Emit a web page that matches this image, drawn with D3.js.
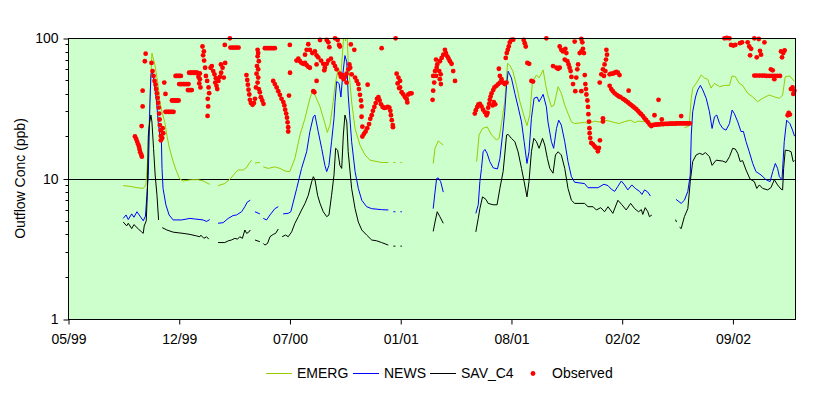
<!DOCTYPE html>
<html>
<head>
<meta charset="utf-8">
<script src="https://cdn.jsdelivr.net/npm/d3@7"></script>
<style>
  body { margin: 0; background: #fff; }
  text { font-family: "Liberation Sans", Arial, sans-serif; fill: #000; }
</style>
</head>
<body>
<div id="chart"></div>
<script>
// time is in decimal years, null marks a gap in the record
const emerg = [
  [1999.676,8.9],[1999.709,8.8],[1999.744,8.6],[1999.775,8.5],[1999.788,9.0],[1999.798,14],[1999.808,35],[1999.818,78],[1999.833,64],[1999.849,46],[1999.857,35],[1999.870,29],[1999.882,25],[1999.893,20],[1999.903,16.8],[1999.923,13.2],[1999.940,11.2],[1999.956,9.9],[1999.973,9.6],[2000.014,9.8],[2000.047,9.8],[2000.072,9.6],[2000.096,9.2],[2000.104,9.1],
  null,
  [2000.145,8.9],[2000.178,9.2],[2000.207,10],[2000.228,10.9],[2000.244,11.5],[2000.269,11.5],[2000.286,12],[2000.298,12.8],[2000.310,13.5],
  null,
  [2000.327,12.9],[2000.351,13.0],
  null,
  [2000.368,12.1],[2000.392,11.8],[2000.425,12.1],[2000.450,11.8],[2000.475,11.3],[2000.499,11.2],[2000.524,13.9],[2000.549,20.4],[2000.574,26.8],[2000.598,37.2],[2000.610,41.5],[2000.623,39.3],[2000.648,32.4],[2000.672,24.7],[2000.684,21.3],[2000.697,24],[2000.713,35.2],[2000.722,46],[2000.738,61],[2000.751,54.5],[2000.763,94],[2000.769,130],[2000.774,95],[2000.779,130],[2000.787,67.6],[2000.804,35],[2000.821,22.7],[2000.845,17.3],[2000.870,14.7],[2000.895,13.5],[2000.952,13.0],[2000.985,13.0],
  null,
  [2001.010,13.0],[2001.020,13.0],
  null,
  [2001.045,13.0],[2001.052,13.0],
  null,
  [2001.207,12.8],[2001.216,16.4],[2001.232,18.5],[2001.257,17.3],
  null,
  [2001.422,13.2],[2001.434,20.4],[2001.451,22.7],[2001.474,23.3],[2001.496,20.4],[2001.520,18.8],[2001.533,19.3],[2001.545,24.6],[2001.561,35.2],[2001.575,66],[2001.586,64],[2001.602,57.6],[2001.619,46],[2001.636,35.2],[2001.655,28.3],[2001.671,23.8],[2001.685,28.3],[2001.698,49],[2001.718,54.5],[2001.731,52],[2001.751,59.2],[2001.764,46],[2001.775,39],[2001.792,32.4],[2001.805,33.3],[2001.825,45],[2001.841,40.4],[2001.858,33.3],[2001.874,29],[2001.891,25.3],[2001.907,24.6],[2001.956,25.1],[2001.973,24.6],[2002.006,25.6],[2002.039,25.1],[2002.055,26],[2002.080,25.6],[2002.105,25],[2002.129,24.6],[2002.154,25.4],[2002.184,26],[2002.204,25],[2002.220,25.6],[2002.253,25.4],[2002.286,25.1],
  null,
  [2002.450,23],[2002.470,23.5],[2002.475,25.4],[2002.484,37.2],[2002.491,44],[2002.508,47.5],[2002.533,54.5],[2002.549,52],[2002.565,50.9],[2002.582,44],[2002.599,47.5],[2002.624,45],[2002.648,46],[2002.673,46],[2002.686,53.7],[2002.702,53],[2002.722,47.5],[2002.738,46],[2002.763,40.4],[2002.788,38.1],[2002.812,35.2],[2002.837,37.2],[2002.870,39.3],[2002.895,38.1],[2002.920,37.2],[2002.936,39.3],[2002.949,53],[2002.972,53.7],[2002.994,49]
];

const news = [
  [1999.676,5.2],[1999.690,5.5],[1999.701,5.1],[1999.718,5.6],[1999.729,5.3],[1999.744,5.8],[1999.759,5.4],[1999.775,5.0],[1999.786,5.4],[1999.793,7.5],[1999.800,10.5],[1999.808,34],[1999.813,55],[1999.818,58],[1999.826,52],[1999.841,35],[1999.849,25.3],[1999.857,20.4],[1999.865,18.3],[1999.868,11.8],[1999.873,8.5],[1999.887,6.5],[1999.903,5.5],[1999.923,5.07],[1999.965,5.07],[2000.006,5.2],[2000.030,5.15],[2000.071,5.07],[2000.088,4.95],[2000.104,5.1],
  null,
  [2000.145,4.8],[2000.170,4.85],[2000.195,5.2],[2000.219,5.45],[2000.236,5.5],[2000.261,5.8],[2000.277,6.3],[2000.289,6.8],[2000.304,7.0],
  null,
  [2000.327,5.8],[2000.351,5.6],
  null,
  [2000.368,5.2],[2000.384,5.07],[2000.401,5.5],[2000.425,6.1],[2000.442,6.3],
  null,
  [2000.466,5.6],[2000.491,5.65],[2000.504,5.8],[2000.516,6.8],[2000.533,8.5],[2000.557,11.8],[2000.582,15.5],[2000.598,21.6],[2000.615,27.5],[2000.623,28.3],[2000.639,21.6],[2000.656,16.4],[2000.672,12.4],[2000.681,11.2],[2000.692,12.4],[2000.705,18.3],[2000.717,26.8],[2000.722,35.2],[2000.730,49],[2000.742,47.5],[2000.751,38],[2000.760,54.5],[2000.771,75],[2000.780,67.6],[2000.787,39.3],[2000.804,18.3],[2000.821,11.2],[2000.837,8.5],[2000.854,7],[2000.878,6.3],[2000.903,6.1],[2000.952,6.0],[2000.985,5.97],
  null,
  [2001.010,5.8],[2001.020,5.8],
  null,
  [2001.045,5.8],[2001.052,5.8],
  null,
  [2001.207,6.1],[2001.216,8.0],[2001.224,10],[2001.232,10.1],[2001.244,9.5],[2001.257,8.0],
  null,
  [2001.418,5.65],[2001.430,6.5],[2001.438,9.5],[2001.446,11.8],[2001.454,15.5],[2001.463,16.1],[2001.474,15.1],[2001.487,13.2],[2001.504,11.9],[2001.525,11.7],[2001.537,13.9],[2001.550,20.4],[2001.561,29.8],[2001.570,46],[2001.578,58],[2001.594,52],[2001.611,40.4],[2001.627,32.4],[2001.644,25.3],[2001.657,18.3],[2001.671,12.8],[2001.681,15.5],[2001.693,26.8],[2001.706,37.2],[2001.721,38],[2001.731,35.2],[2001.751,39.7],[2001.767,32.4],[2001.775,25.3],[2001.792,18.3],[2001.803,16.4],[2001.817,22.7],[2001.828,26],[2001.841,24],[2001.858,18.3],[2001.874,13.2],[2001.891,10.3],[2001.907,9.4],[2001.956,9.2],[2001.973,8.6],[2002.022,8.6],[2002.052,9.1],[2002.072,8.9],[2002.088,8.4],[2002.105,8.1],[2002.121,8.8],[2002.138,9.6],[2002.154,9.0],[2002.170,8.3],[2002.190,9.0],[2002.207,8.5],[2002.228,8.1],[2002.240,7.7],[2002.253,8.3],[2002.269,8.0],[2002.282,7.5],
  null,
  [2002.409,7.1],[2002.434,6.65],[2002.450,7.0],[2002.467,8.1],[2002.479,10.6],[2002.484,20.4],[2002.491,29.8],[2002.505,38],[2002.516,42.7],[2002.529,46],[2002.541,42.7],[2002.558,37.2],[2002.574,29.8],[2002.587,22.7],[2002.599,27.5],[2002.610,28.3],[2002.624,24.6],[2002.640,22.7],[2002.656,22.1],[2002.673,24.6],[2002.686,30.7],[2002.697,29],[2002.714,25.3],[2002.730,21.6],[2002.742,21.6],[2002.755,18.3],[2002.771,15.5],[2002.788,12.8],[2002.804,11.2],[2002.829,10.6],[2002.854,9.8],[2002.874,9.5],[2002.887,11.2],[2002.900,12.8],[2002.911,11.8],[2002.920,10.3],[2002.933,9.8],[2002.944,18.3],[2002.956,26],[2002.972,24.6],[2002.985,22.1],[2002.995,20]
];

const savC4 = [
  [1999.676,4.9],[1999.693,4.6],[1999.701,4.8],[1999.718,4.4],[1999.729,4.7],[1999.751,4.37],[1999.767,4.17],[1999.775,4.07],[1999.780,4.6],[1999.790,5.0],[1999.795,7.6],[1999.800,20],[1999.805,24],[1999.813,28.3],[1999.818,25.3],[1999.826,16.4],[1999.834,10.6],[1999.843,7.6],[1999.851,5.07],
  null,
  [1999.869,4.47],[1999.892,4.3],[1999.923,4.15],[1999.972,4.07],[2000.006,4.0],[2000.039,3.9],[2000.055,3.85],[2000.060,3.95],[2000.075,3.75],[2000.088,3.85],[2000.099,3.7],
  null,
  [2000.145,3.5],[2000.178,3.5],[2000.195,3.6],[2000.211,3.65],[2000.228,3.75],[2000.241,3.7],[2000.252,3.85],[2000.265,3.75],[2000.277,4.3],[2000.286,4.07],[2000.296,4.15],[2000.304,4.3],
  null,
  [2000.327,3.65],[2000.351,3.55],
  null,
  [2000.368,3.45],[2000.376,3.36],[2000.389,3.45],[2000.401,3.85],[2000.417,4.0],[2000.429,4.07],[2000.442,4.37],
  null,
  [2000.461,3.85],[2000.478,3.96],[2000.491,3.85],[2000.508,4.17],[2000.524,4.8],[2000.541,5.35],[2000.557,5.97],[2000.574,6.65],[2000.590,7.6],[2000.607,9.5],[2000.615,10.3],[2000.623,9.8],[2000.636,7.6],[2000.648,6.65],[2000.664,5.8],[2000.681,5.35],[2000.692,5.5],[2000.705,7.6],[2000.717,10.6],[2000.725,16.4],[2000.735,15.9],[2000.746,12.4],[2000.755,11.8],[2000.763,20.4],[2000.771,28.3],[2000.780,25.3],[2000.787,15.5],[2000.804,8.5],[2000.821,6.1],[2000.837,4.9],[2000.854,4.3],[2000.878,3.96],[2000.903,3.65],[2000.928,3.6],[2000.952,3.5],[2000.985,3.36],
  null,
  [2001.010,3.3],[2001.020,3.3],
  null,
  [2001.045,3.3],[2001.052,3.3],
  null,
  [2001.207,4.2],[2001.216,4.9],[2001.227,5.8],[2001.240,5.35],[2001.257,4.8],
  null,
  [2001.418,4.17],[2001.430,5.2],[2001.438,6.1],[2001.451,7.4],[2001.468,7.1],[2001.479,6.65],[2001.504,6.5],[2001.523,6.5],[2001.537,8.5],[2001.553,11.2],[2001.561,14.7],[2001.570,20.4],[2001.578,20.6],[2001.594,19.3],[2001.611,18.3],[2001.627,15.5],[2001.644,11.8],[2001.657,9.5],[2001.671,7.4],[2001.681,9.5],[2001.693,15.5],[2001.705,19.3],[2001.718,18.3],[2001.731,16.4],[2001.748,19.3],[2001.759,17.3],[2001.772,13.9],[2001.784,11.8],[2001.800,10.9],[2001.812,14.7],[2001.825,15.5],[2001.841,14.7],[2001.858,11.8],[2001.874,8.5],[2001.891,7.0],[2001.907,6.65],[2001.956,6.65],[2001.973,6.3],[2001.998,6.3],[2002.014,5.97],[2002.036,6.2],[2002.055,5.8],[2002.072,6.3],[2002.096,5.65],[2002.121,7.0],[2002.141,6.5],[2002.162,5.97],[2002.184,6.65],[2002.204,6.1],[2002.223,5.8],[2002.237,6.0],[2002.244,5.55],[2002.256,6.2],[2002.269,5.8],[2002.277,5.35],[2002.289,5.5],
  null,
  [2002.406,5.1],[2002.411,4.9],
  null,
  [2002.426,4.5],[2002.434,4.4],[2002.450,5.35],[2002.467,6.1],[2002.479,9.5],[2002.491,13.2],[2002.508,14.7],[2002.525,15.1],[2002.541,14.8],[2002.554,15.3],[2002.574,14.3],[2002.587,12.4],[2002.607,13.5],[2002.640,13.3],[2002.656,13.0],[2002.673,14.3],[2002.689,16.4],[2002.702,16.2],[2002.714,15.1],[2002.726,13.2],[2002.738,13.4],[2002.755,11.5],[2002.775,9.9],[2002.796,9.5],[2002.808,8.5],[2002.821,9.0],[2002.837,8.5],[2002.862,8.3],[2002.878,8.6],[2002.895,9.8],[2002.911,9.0],[2002.928,8.4],[2002.936,8.3],[2002.941,11.8],[2002.949,15.9],[2002.965,15.8],[2002.978,15.5],[2002.988,13.2],[2002.995,13.4]
];

const observed = [
  [1999.734,19.9],[1999.740,19.1],[1999.745,18.3],[1999.750,17.5],[1999.754,16.8],[1999.757,16.1],[1999.760,15.4],[1999.765,14.8],[1999.768,14.3],
  [1999.767,23.6],[1999.772,32.6],[1999.772,42.2],[1999.783,68.3],[1999.787,77.3],
  [1999.816,66.5],[1999.821,58.2],[1999.826,53.7],[1999.831,49.5],[1999.836,46.5],[1999.839,43.3],[1999.843,40.4],[1999.846,37.5],[1999.849,34.6],[1999.852,32.0],[1999.854,29.0],[1999.856,26.3],[1999.857,24.0],[1999.861,22.0],[1999.862,20.1],[1999.862,18.7],
  [1999.869,19.4],[1999.874,21.0],[1999.871,22.8],[1999.879,48.2],[1999.885,40.0],
  [1999.885,29.8],[1999.892,29.8],[1999.899,29.8],[1999.905,29.8],[1999.912,29.8],[1999.918,29.8],[1999.925,29.8],
  [1999.917,35.9],[1999.923,35.9],[1999.930,35.9],[1999.936,35.9],[1999.943,35.9],[1999.950,35.9],
  [1999.953,47],[1999.960,47],[1999.966,47],[1999.973,47],[1999.979,47],[1999.986,47],[1999.992,47],[1999.999,47],
  [1999.935,53.7],[1999.941,53.7],[1999.948,53.7],[1999.954,53.7],[1999.961,53.7],
  [1999.996,42.6],[2000.002,42.6],[2000.009,42.6],[2000.015,42.6],
  [2000.002,56.6],[2000.009,56.6],[2000.015,56.6],[2000.022,56.6],[2000.029,56.6],[2000.035,56.6],[2000.042,56.6],
  [2000.055,55.9],[2000.048,53.0],[2000.055,50.9],[2000.052,47.5],[2000.058,44.5],[2000.068,87.0],[2000.075,80.2],[2000.071,75.3],[2000.076,69.1],[2000.081,61.4],[2000.085,53.7],[2000.091,49.5],[2000.098,44.5],[2000.101,40.5],[2000.094,36.9],[2000.096,32.6],[2000.093,27.9],
  [2000.108,61.4],[2000.114,63.1],[2000.121,58.2],[2000.127,55.1],[2000.134,51.7],[2000.131,48.2],[2000.137,45.7],[2000.141,43.3],[2000.147,49.5],[2000.154,52.8],[2000.160,56.6],[2000.167,61.4],[2000.159,64.8],[2000.173,52.3],[2000.180,66.5],
  [2000.178,89.3],[2000.203,99.4],[2000.206,85.5],[2000.216,85.5],[2000.226,85.5],[2000.236,85.5],[2000.246,85.5],
  [2000.285,54.5],[2000.289,50.3],[2000.292,46.5],[2000.295,42.9],[2000.299,39.6],[2000.302,36.3],[2000.307,34.4],[2000.315,33.5],[2000.322,34.4],
  [2000.340,82.4],[2000.343,78.1],[2000.340,74.0],[2000.346,68.3],[2000.337,63.1],[2000.343,59.8],[2000.335,55.7],[2000.343,52.3],[2000.340,48.2],[2000.332,44.5],[2000.346,43.3],[2000.351,41.1],[2000.356,37.9],[2000.363,35.9],[2000.369,34.0],[2000.327,36.9],
  [2000.376,84.7],[2000.384,84.7],[2000.393,84.7],[2000.401,84.7],[2000.409,84.7],[2000.417,84.7],[2000.425,84.7],
  [2000.417,49.5],[2000.425,47.0],[2000.434,44.5],[2000.442,41.8],[2000.450,39.4],[2000.458,36.9],[2000.467,35.0],[2000.472,33.1],[2000.476,30.9],[2000.481,29.0],[2000.485,27.1],[2000.488,25.1],[2000.491,23.2],[2000.491,21.6],
  [2000.500,56.6],[2000.495,38.9],[2000.499,89.3],
  [2000.532,69.1],[2000.541,71.3],[2000.549,68.3],[2000.557,66.5],[2000.565,65.5],[2000.574,66.5],[2000.582,64.1],[2000.590,62.4],[2000.598,61.4],[2000.574,76.1],[2000.582,82.4],[2000.590,90.3],[2000.598,82.4],[2000.610,78.1],[2000.623,80.2],[2000.631,75.3],[2000.631,64.8],[2000.639,72.9],[2000.648,96.8],[2000.653,69.1],[2000.664,65.5],[2000.672,61.4],[2000.681,65.5],[2000.689,69.1],[2000.702,71.3],[2000.714,66.5],[2000.722,63.1],[2000.730,59.8],[2000.669,58.9],[2000.681,96.8],[2000.689,93.2],[2000.694,86.0],[2000.722,99.4],[2000.735,96.8],[2000.742,89.3],[2000.746,87.0],[2000.746,55.7],[2000.751,52.9],[2000.758,54.5],[2000.765,50.9],[2000.771,52.8],[2000.779,55.7],[2000.788,59.8],[2000.793,64.8],[2000.797,61.4],[2000.800,90.0],[2000.804,55.1],[2000.779,48.2],[2000.631,49.5],[2000.620,41.1],[2000.615,41.8],
  [2000.821,52.3],[2000.829,49.5],[2000.837,47.0],[2000.840,43.3],[2000.845,39.4],[2000.850,35.9],[2000.853,32.6],[2000.853,27.5],[2000.857,23.4],
  [2000.883,46.5],[2000.952,84.7],[2001.021,99.4],[2000.817,82.4],
  [2000.857,19.9],[2000.865,20.8],[2000.873,21.6],[2000.881,22.8],[2000.890,24.4],[2000.896,26.6],[2000.903,28.2],[2000.909,30.3],[2000.916,32.3],[2000.923,34.4],[2000.929,36.9],[2000.936,37.9],[2000.942,35.9],[2000.949,33.7],[2000.957,32.3],[2000.965,31.8],[2000.974,32.0],[2000.982,32.3],[2000.990,32.0],[2000.995,30.3],[2000.998,28.2],[2001.002,26.0],[2001.007,24.0],[2001.008,23.2],
  [2001.026,55.7],[2001.035,52.3],[2001.031,47.5],[2001.038,44.0],[2001.043,44.5],[2001.043,49.5],[2001.051,41.1],[2001.059,39.6],[2001.068,37.9],[2001.076,36.7],[2001.079,34.8],[2001.084,39.6],[2001.092,40.4],[2001.100,40.4],
  [2001.204,36.3],[2001.207,42.2],[2001.212,48.2],[2001.207,53.7],[2001.216,58.2],[2001.221,53.7],[2001.224,61.4],[2001.227,64.8],[2001.221,70.2],[2001.237,58.2],[2001.240,68.3],[2001.244,55.1],[2001.240,50.9],[2001.245,47.0],[2001.249,72.1],[2001.257,76.1],[2001.265,82.4],[2001.270,78.1],[2001.277,74.0],[2001.283,71.3],[2001.290,68.3],[2001.298,65.5],[2001.306,58.2],[2001.315,49.5],
  [2001.413,29.0],[2001.418,30.6],[2001.425,32.3],[2001.431,33.7],[2001.438,34.0],[2001.446,32.6],[2001.454,30.9],[2001.463,29.6],[2001.471,28.2],[2001.476,29.3],[2001.479,31.9],[2001.484,34.0],[2001.487,36.3],[2001.491,38.3],[2001.496,40.4],[2001.504,42.6],[2001.510,44.5],[2001.520,45.7],[2001.529,47.0],[2001.537,48.2],[2001.545,50.9],[2001.553,48.2],[2001.561,47.0],[2001.570,48.2],[2001.507,35.0],[2001.514,33.7],[2001.501,33.1],[2001.532,60.4],[2001.537,53.7],
  [2001.566,72.1],[2001.571,78.1],[2001.576,82.4],[2001.581,87.0],[2001.586,93.0],[2001.593,96.8],[2001.603,97.3],[2001.655,96.8],[2001.660,91.8],[2001.665,87.0],[2001.673,66.5],[2001.682,65.5],[2001.693,49.5],[2001.701,49.0],[2001.767,99.4],
  [2001.833,87.0],[2001.841,82.4],[2001.849,80.2],[2001.861,83.8],[2001.866,78.1],[2001.858,70.2],[2001.871,68.3],[2001.877,64.8],[2001.882,61.4],[2001.887,58.2],[2001.891,52.8],[2001.915,52.3],[2001.920,59.8],[2001.924,64.8],[2001.932,78.1],[2001.940,80.2],[2001.948,83.8],[2001.953,78.1],[2001.940,98.4],[2001.945,93.2],[2001.907,94.3],[2001.800,63.1],[2001.817,61.4],[2001.825,60.4],[2001.833,61.4],[2001.899,47.0],[2001.910,41.8],[2001.940,41.8],[2001.957,54.5],
  [2001.960,47.0],[2001.963,43.3],[2001.965,39.6],[2001.970,35.9],[2001.973,32.3],[2001.975,28.7],[2001.978,25.4],[2001.980,22.8],[2001.981,21.0],[2001.984,19.4],[2001.989,17.9],[2001.998,17.5],[2002.006,16.9],[2002.014,16.5],[2002.022,15.6],[2002.027,16.5],[2002.032,18.7],[2002.047,26.8],[2002.047,25.4],
  [2002.031,48.2],[2002.039,55.1],[2002.047,59.8],[2002.055,64.8],[2002.062,70.2],[2002.067,76.1],[2002.064,82.4],[2002.059,58.2],[2002.052,53.7],
  [2002.080,55.1],[2002.088,55.7],[2002.096,55.7],[2002.105,56.6],[2002.113,57.4],[2002.121,56.6],[2002.129,54.5],
  [2002.080,45.7],[2002.088,43.3],[2002.096,41.8],[2002.105,40.4],[2002.115,39.4],[2002.124,38.5],[2002.134,37.9],[2002.146,36.9],[2002.154,36.3],[2002.162,35.5],[2002.171,34.8],[2002.179,34.0],[2002.187,33.3],[2002.195,32.6],[2002.203,31.9],[2002.212,31.1],[2002.220,30.3],[2002.228,29.4],[2002.236,28.7],[2002.245,27.8],[2002.253,26.8],[2002.261,26.0],[2002.269,25.2],[2002.278,24.2],[2002.286,23.6],
  [2002.294,24.0],[2002.300,24.1],[2002.307,24.2],[2002.313,24.2],[2002.320,24.3],[2002.327,24.3],[2002.333,24.4],[2002.340,24.4],[2002.346,24.4],[2002.353,24.5],[2002.360,24.5],[2002.366,24.5],[2002.373,24.5],[2002.379,24.6],[2002.386,24.6],[2002.392,24.6],[2002.399,24.6],[2002.406,24.6],[2002.412,24.7],[2002.419,24.7],[2002.425,24.7],[2002.432,24.7],[2002.438,24.7],[2002.445,24.7],[2002.452,24.7],[2002.458,24.7],[2002.465,24.7],[2002.471,24.7],[2002.477,24.7],
  [2002.174,42.2],[2002.322,36.3],[2002.302,28.2],[2002.338,26.3],[2002.434,27.8],
  [2002.648,99.4],[2002.660,100],[2002.673,99.4],[2002.681,89.3],[2002.692,88.3],[2002.702,89.3],[2002.725,91.8],[2002.735,93.2],[2002.763,93.2],[2002.771,87.0],[2002.780,83.8],[2002.775,75.3],[2002.796,99.4],[2002.818,98.4],[2002.824,81.1],[2002.829,76.1],[2002.808,72.9],[2002.846,93.2],[2002.928,80.2],[2002.939,78.1],[2002.946,81.5],[2002.933,72.9],
  [2002.796,54.0],[2002.808,54.0],[2002.821,54.0],[2002.834,54.0],[2002.846,54.0],[2002.857,53.7],[2002.870,53.7],[2002.883,53.7],[2002.897,53.7],[2002.910,53.7],[2002.923,53.7],
  [2002.878,59.8],[2002.887,58.9],[2002.895,50.9],
  [2002.961,28.2],[2002.966,29.3],[2002.972,28.5],[2002.977,43.3],[2002.985,44.5],[2002.994,42.2],[2002.989,40.0]
];

const tickDates = ["1999-05-28", "1999-12-14", "2000-07-01", "2001-01-17", "2001-08-05", "2002-02-21", "2002-09-09"];
const tickLabels = ["05/99", "12/99", "07/00", "01/01", "08/01", "02/02", "09/02"];
const yTicks = [1, 10, 100];

const seriesInfo = [
  {name: "EMERG", data: emerg, color: "#99cc00"},
  {name: "NEWS", data: news, color: "#0000ff"},
  {name: "SAV_C4", data: savC4, color: "#000000"}
];

function yearToDate(t) {
  const y = Math.floor(t);
  const a = new Date(y, 0, 1), b = new Date(y + 1, 0, 1);
  return new Date(+a + (t - y) * (b - a));
}

const width = 829, height = 396;
const margin = {top: 38, right: 34, bottom: 77, left: 68};
const fontSize = 14;

const x = d3.scaleTime()
    .domain([new Date(1999, 4, 28), new Date(2002, 11, 31)])
    .range([margin.left, width - margin.right]);

const y = d3.scaleLog()
    .domain([1, 100])
    .range([height - margin.bottom, margin.top]);

const svg = d3.select("#chart").append("svg")
    .attr("width", width)
    .attr("height", height);

svg.append("defs").append("clipPath")
    .attr("id", "plot-clip")
  .append("rect")
    .attr("x", margin.left)
    .attr("y", margin.top)
    .attr("width", width - margin.right - margin.left)
    .attr("height", height - margin.bottom - margin.top);

svg.append("rect")
    .attr("x", margin.left)
    .attr("y", margin.top)
    .attr("width", width - margin.right - margin.left)
    .attr("height", height - margin.bottom - margin.top)
    .attr("fill", "#ccffcc");

// gridline at 10
svg.append("line")
    .attr("x1", margin.left)
    .attr("x2", width - margin.right)
    .attr("y1", Math.round(y(10)) + 0.5)
    .attr("y2", Math.round(y(10)) + 0.5)
    .attr("stroke", "#000");

const line = d3.line()
    .defined(d => d !== null)
    .x(d => x(yearToDate(d[0])))
    .y(d => y(d[1]));

svg.append("g")
    .attr("clip-path", "url(#plot-clip)")
  .selectAll("path")
  .data(seriesInfo)
  .join("path")
    .attr("fill", "none")
    .attr("stroke", d => d.color)
    .attr("stroke-width", 1)
    .attr("d", d => line(d.data));

svg.append("g")
    .attr("fill", "#ff0000")
  .selectAll("circle")
  .data(observed)
  .join("circle")
    .attr("cx", d => x(yearToDate(d[0])))
    .attr("cy", d => y(d[1]))
    .attr("r", 2.4);

// frame
svg.append("rect")
    .attr("x", margin.left + 0.5)
    .attr("y", margin.top + 0.5)
    .attr("width", width - margin.right - margin.left)
    .attr("height", height - margin.bottom - margin.top)
    .attr("fill", "none")
    .attr("stroke", "#000");

const xAxis = g => g
    .attr("transform", `translate(0.5,${height - margin.bottom + 0.5})`)
    .call(d3.axisBottom(x)
      .tickValues(tickDates.map(d => d3.timeParse("%Y-%m-%d")(d)))
      .tickFormat((d, i) => tickLabels[i])
      .tickSize(5)
      .tickSizeOuter(0))
    .call(g => g.select(".domain").remove())
    .call(g => g.selectAll("text")
      .attr("dy", null)
      .attr("y", 24)
      .attr("font-size", fontSize)
      .attr("font-family", "Liberation Sans, Arial, sans-serif"));

const minorTicks = d3.range(2, 10).concat(d3.range(20, 100, 10));

const yAxis = g => g
    .attr("transform", `translate(${margin.left + 0.5},0.5)`)
    .call(d3.axisLeft(y)
      .tickValues(yTicks)
      .tickFormat(d3.format("d"))
      .tickSize(5)
      .tickPadding(5))
    .call(g => g.select(".domain").remove())
    .call(g => g.selectAll("text")
      .attr("font-size", fontSize)
      .attr("font-family", "Liberation Sans, Arial, sans-serif"))
    .call(g => g.selectAll(".minor")
      .data(minorTicks)
      .join("line")
        .attr("class", "minor")
        .attr("stroke", "#000")
        .attr("x1", -3)
        .attr("x2", 0)
        .attr("y1", d => Math.round(y(d)))
        .attr("y2", d => Math.round(y(d))));

svg.append("g").call(xAxis);
svg.append("g").call(yAxis);

svg.append("text")
    .attr("transform", `translate(25,${(margin.top + height - margin.bottom) / 2}) rotate(-90)`)
    .attr("text-anchor", "middle")
    .attr("font-size", fontSize)
    .text("Outflow Conc (ppb)");

// legend
const legend = svg.append("g")
    .attr("transform", "translate(0,373)");

const legendX = [266, 353, 430];
seriesInfo.forEach((s, i) => {
  legend.append("line")
      .attr("x1", legendX[i])
      .attr("x2", legendX[i] + 26)
      .attr("y1", 0.5)
      .attr("y2", 0.5)
      .attr("stroke", s.color);
  legend.append("text")
      .attr("x", legendX[i] + 31)
      .attr("y", 5)
      .attr("font-size", fontSize)
      .text(s.name);
});

legend.append("circle")
    .attr("cx", 533)
    .attr("cy", 0.5)
    .attr("r", 2.4)
    .attr("fill", "#ff0000");

legend.append("text")
    .attr("x", 552)
    .attr("y", 5)
    .attr("font-size", fontSize)
    .text("Observed");
</script>
</body>
</html>
